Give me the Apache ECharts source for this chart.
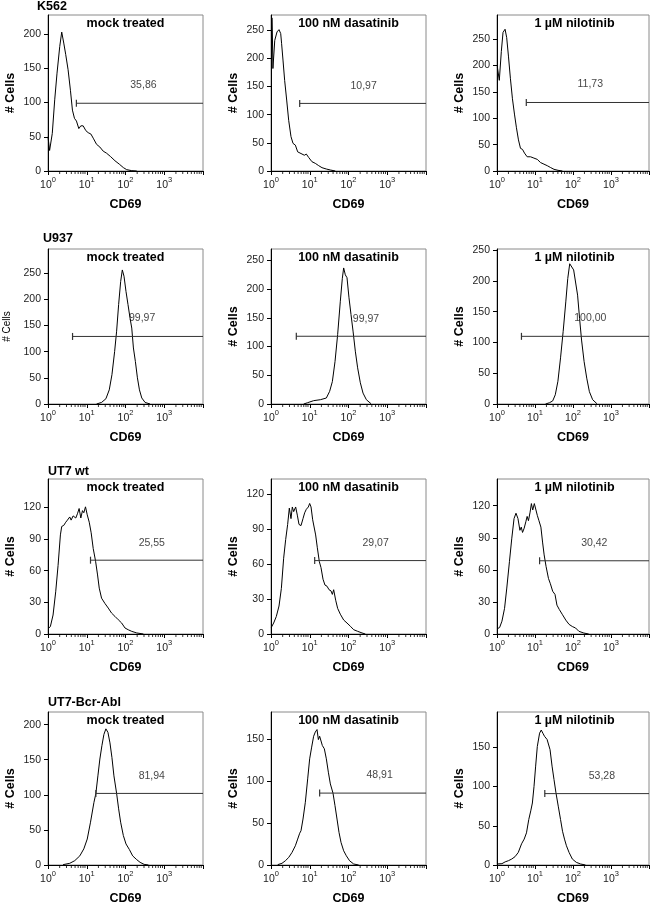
<!DOCTYPE html>
<html><head><meta charset="utf-8">
<script src="https://cdn.jsdelivr.net/npm/echarts@6/dist/echarts.min.js"></script>
<style>html,body{margin:0;padding:0;background:#fff}#c{width:652px;height:906px}</style>
</head><body><div id="c"></div>
<script>
// ---- data ----
const rowLabels = ['K562', 'U937', 'UT7 wt', 'UT7-Bcr-Abl'];
const panelTitles = ['mock treated', '100 nM dasatinib', '1 µM nilotinib'];
const xTickBase = '10';
const xTickExp = ['0', '1', '2', '3'];
const xMinorTicks = [2,3,4,5,6,7,8,9,20,30,40,50,60,70,80,90,200,300,400,500,600,700,800,900,2000,3000,4000,5000,6000,7000,8000,9000];
const yMaxes = [228, 277, 296, 296, 270, 252, 147, 133, 145, 218, 183, 195];
const yIntervals = [50, 50, 50, 50, 50, 50, 30, 30, 30, 50, 50, 50];
const gateStart = [5.4, 5.5, 5.9, 4.3, 4.5, 4.4, 12.5, 13.4, 13.2, 17.2, 18.0, 18.1];
const gateLevel = [99, 120, 130, 129, 118, 110, 70, 63, 68.5, 102, 86, 91];
const gatePct = ['35,86', '10,97', '11,73', '99,97', '99,97', '100,00', '25,55', '29,07', '30,42', '81,94', '48,91', '53,28'];
const gateLabelX = [290, 246, 285, 268, 283, 286, 477, 502, 363, 477, 637, 574];
const gateLabelY = [126, 151, 164, 164, 148, 139, 86, 78, 85, 127, 107, 113];

const k562Mock = [[1.0,50],[1.10,30],[1.29,55],[1.49,104],[1.71,143],[2.01,182],[2.26,203],[2.55,187],[2.87,170],[3.30,148],[3.79,118],[4.27,89],[4.82,77],[5.42,73],[6.24,62],[7.03,66],[8.08,66],[9.47,59],[10.9,56],[12.8,54],[14.7,48],[17.9,39],[21.8,35],[26.6,29],[32.5,26],[41.3,21],[53.4,15],[69.2,10],[87.9,5],[107,2],[145,0.5],[195,0]];
const k562Das = [[1.07,272],[1.12,182],[1.25,232],[1.43,247],[1.61,251],[1.78,244],[1.88,226],[2.04,197],[2.25,161],[2.54,126],[2.86,90],[3.28,61],[3.70,49],[4.25,46],[4.88,34],[5.95,31],[7.25,28],[8.17,30],[9.38,24],[11.4,16.5],[13.9,13.6],[17.0,9.5],[20.7,5.9],[26.8,3.5],[34.0,1.8],[45.7,0]];
const k562Nil = [[1.02,198],[1.15,172],[1.30,227],[1.44,263],[1.63,269],[1.80,253],[2.00,218],[2.25,176],[2.55,137],[2.88,108],[3.25,82],[3.67,59],[4.15,43],[4.69,41],[5.29,34],[6.22,27],[7.62,27],[9.35,24.5],[11.5,22],[14.0,16],[17.2,13],[21.1,10],[25.8,6.5],[31.6,3.2],[40.4,1.3],[52.6,0]];
const u937Mock = [[17.9,0],[24.1,3],[31.2,10],[38.1,27],[44.7,56],[52.4,100],[59.0,139],[66.5,190],[75.0,234],[82.8,256],[91.5,244],[103,215],[116,190],[131,164],[145,145],[160,107],[180,81],[203,50],[229,27],[263,11.5],[320,3],[431,0]];
const u937Das = [[6.97,0],[8.84,2.3],[12.6,5.8],[18.8,7.5],[26.8,10.4],[32.6,22],[38.3,39],[44.9,74],[52.5,121],[61.5,179],[69.3,219],[75.0,237],[82.8,225],[91.5,220],[103,185],[116,156],[131,127],[150,92],[172,63],[202,37],[237,19],[289,7.5],[381,0.5]];
const u937Nil = [[18.9,0],[23.9,2],[29.2,5],[34.2,15],[40.1,37],[47.0,75],[55.1,118],[64.6,166],[72.8,204],[82.0,228],[92.5,227],[104,218],[117,215],[132,177],[149,139],[168,104],[196,69],[230,42],[270,20],[329,7],[426,0.5]];
const ut7Mock = [[1.0,5],[1.15,7],[1.35,18],[1.58,40],[1.82,65],[2.09,94],[2.26,102],[2.55,103],[2.87,106],[3.17,108],[3.64,111],[3.95,108],[4.45,112],[5.21,110],[5.75,114],[6.36,119],[7.03,110],[7.76,117],[8.40,115],[9.28,120.6],[10.3,113],[11.6,106],[13.0,96],[14.7,81],[16.9,69],[19.0,56],[21.0,43.5],[24.1,34],[29.4,29],[35.9,24.6],[43.8,19.8],[53.4,16.7],[65.2,13.5],[79.6,10.4],[97,5.7],[118,4],[145,2.5],[195,1],[290,0]];
const ut7Das = [[1.02,5.7],[1.17,9.4],[1.37,15],[1.61,24],[1.85,39],[2.12,65],[2.39,81],[2.69,94],[2.97,108],[3.28,99],[3.55,109],[3.85,105],[4.33,109],[4.78,102],[5.28,94],[5.95,93],[6.70,99],[7.39,104],[8.16,107],[9.19,109],[9.95,112],[10.8,109],[11.9,98],[13.1,97],[14.2,85],[15.7,74],[17.7,62],[19.5,57],[22.0,47],[24.7,42],[27.9,41],[31.4,38],[35.4,37],[38.3,34],[41.4,38],[46.7,29],[52.5,22],[61.5,17],[75.0,12],[91.5,9.4],[112,6.6],[136,3.7],[172,2.3],[223,0.9],[272,0]];
const ut7Nil = [[1.02,5],[1.17,6],[1.35,12],[1.58,24],[1.81,43],[2.13,68],[2.44,89],[2.81,108],[3.16,113],[3.56,108],[4.01,97],[4.35,100],[4.70,95],[5.19,99],[5.74,105],[6.21,110],[6.72,106],[7.43,114],[8.04,122],[8.71,116],[9.61,122],[10.6,116],[11.5,111],[12.7,106],[14.3,100],[15.8,86],[17.4,74],[19.6,63],[22.6,52],[25.4,47],[29.2,40],[33.6,37],[37.8,27],[43.5,23],[53.0,18],[64.6,13],[78.8,9],[96.1,7],[117,5.6],[143,2.5],[193,0.9],[259,0]];
const bcrMock = [[2.45,0.5],[3.64,2.4],[4.91,6.2],[6.62,13],[8.40,23],[10.3,37],[12.5,61],[15.3,89],[17.2,102],[19.4,127],[21.8,151],[24.6,170],[27.7,186],[31.2,194],[35.2,189],[39.7,174],[44.7,153],[50.3,127],[59.0,102],[66.5,80],[74.9,61],[87.9,42],[103,30],[126,22],[153,13],[195,7.6],[238,3.8],[302,0.9],[391,0]];
const bcrDas = [[1.49,0.4],[1.92,2],[2.34,5],[2.86,9],[3.48,15],[4.25,23],[4.88,31],[5.50,38],[5.95,41],[6.70,55],[7.69,75],[8.84,103],[9.95,127],[11.2,141],[12.6,154],[13.9,159],[15.4,162],[16.7,150],[18.0,154],[19.5,152],[21.1,143],[23.8,139],[26.8,127],[30.2,111],[34.0,97],[39.8,86],[44.8,71],[50.5,55],[56.9,39],[64.1,27],[75.0,17],[87.9,11],[107,5],[136,1.2],[183,0]];
const bcrNil = [[1.0,1.3],[1.35,1.7],[1.64,4],[2.00,5.5],[2.44,7.6],[2.98,10.6],[3.63,16],[4.43,27],[5.19,33],[5.97,41],[6.86,58],[7.73,69],[8.53,79],[9.42,100],[10.4,126],[11.5,151],[13.2,168],[14.6,172],[16.1,168],[17.8,164],[20.8,160],[23.0,158],[24.9,147],[28.1,126],[31.6,109],[35.6,92],[40.9,75],[47.0,58],[53.0,43],[59.7,33],[67.2,24.5],[78.8,16],[96.1,7.6],[122,3.4],[158,1.3],[213,0]];

const curves = [k562Mock, k562Das, k562Nil, u937Mock, u937Das, u937Nil, ut7Mock, ut7Das, ut7Nil, bcrMock, bcrDas, bcrNil];

// ---- layout ----
const FONT = 'Liberation Sans, Arial, Helvetica, sans-serif';
const colLeft = [48, 271, 497];
const rowTop = [15, 249, 479, 712];
const rowH = [156, 155, 155, 154];
const W = 155;

const grid = [], xAxis = [], yAxis = [], series = [], title = [];
for (let i = 0; i < 12; i++) {
  const r = Math.floor(i / 3), c = i % 3;
  grid.push({left: colLeft[c], top: rowTop[r], width: W, height: rowH[r], show: true, borderColor: '#8a8a8a', borderWidth: 1, containLabel: false});
  xAxis.push({
    type: 'log', logBase: 10, min: 1, max: 10000, gridIndex: i,
    axisLine: {show: true, lineStyle: {color: '#000', width: 1}},
    axisTick: {show: true, length: 4, lineStyle: {color: '#000'}},
    axisLabel: {color: '#222', fontFamily: FONT, margin: 5,
      formatter: v => { const e = Math.round(Math.log10(v)); return e < xTickExp.length ? '{b|' + xTickBase + '}{s|' + xTickExp[e] + '}' : ''; },
      rich: {
        b: {fontSize: 10.5, lineHeight: 15, verticalAlign: 'bottom', color: '#222', fontFamily: FONT},
        s: {fontSize: 7.5, lineHeight: 9, verticalAlign: 'top', color: '#222', fontFamily: FONT}
      }},
    splitLine: {show: false},
    name: 'CD69', nameLocation: 'middle', nameGap: 27,
    nameTextStyle: {fontSize: 12.5, fontWeight: 'bold', color: '#000', fontFamily: FONT}
  });
  const ticks = [];
  for (let v = 0; v <= yMaxes[i]; v += yIntervals[i]) ticks.push(v);
  const special = (i === 3);
  yAxis.push({
    type: 'value', min: 0, max: yMaxes[i], gridIndex: i,
    axisLine: {show: true, lineStyle: {color: '#000', width: 1}},
    axisTick: {show: true, length: 4, customValues: ticks, lineStyle: {color: '#000'}},
    minorTick: {show: false},
    axisLabel: {fontSize: 10.5, color: '#222', fontFamily: FONT, margin: 7, customValues: ticks},
    splitLine: {show: false},
    name: '# Cells', nameLocation: 'middle', nameGap: special ? 36 : 31,
    nameTextStyle: {fontSize: special ? 10 : 12.5, fontWeight: special ? 'normal' : 'bold', color: '#000', fontFamily: FONT}
  });
  series.push({
    type: 'line', xAxisIndex: i, yAxisIndex: i, data: curves[i], symbol: 'none', smooth: false,
    lineStyle: {color: '#000', width: 1}, silent: true, animation: false
  });
  series.push({
    type: 'line', xAxisIndex: i, yAxisIndex: i, silent: true, animation: false,
    data: [{value: [gateStart[i], gateLevel[i]], symbol: 'rect', symbolSize: [1.2, 7]}, {value: [10000, gateLevel[i]], symbol: 'none'}],
    lineStyle: {color: '#333', width: 1}, itemStyle: {color: '#333'}, showAllSymbol: true
  });
  series.push({
    type: 'scatter', xAxisIndex: i, yAxisIndex: i, silent: true, animation: false,
    data: [[gateLabelX[i], gateLabelY[i]]], symbolSize: 0,
    label: {show: true, position: 'inside', formatter: gatePct[i], fontSize: 10.5, color: '#111', fontFamily: FONT}
  });
  series.push({
    type: 'scatter', xAxisIndex: i, yAxisIndex: i, silent: true, animation: false, clip: false,
    data: xMinorTicks.map(v => [v, 0]), symbol: 'rect', symbolSize: [1, 2.5], symbolOffset: [0, 1.8],
    itemStyle: {color: '#000'}
  });
  title.push({text: panelTitles[c], left: colLeft[c] + W / 2, top: rowTop[r] + 2, textAlign: 'center',
    textStyle: {fontSize: 12.5, fontWeight: 'bold', color: '#000', fontFamily: FONT}, padding: 0});
}
const rowLabelLeft = [37, 43, 48, 48];
const rowLabelTop = [0, 232, 465, 696];
for (let r = 0; r < 4; r++) {
  title.push({text: rowLabels[r], left: rowLabelLeft[r], top: rowLabelTop[r], padding: 0,
    textStyle: {fontSize: 12.5, fontWeight: 'bold', color: '#000', fontFamily: FONT}});
}

const chart = echarts.init(document.getElementById('c'), null, {renderer: 'canvas'});
chart.setOption({animation: false, backgroundColor: '#fff', title, grid, xAxis, yAxis, series});
</script></body></html>
